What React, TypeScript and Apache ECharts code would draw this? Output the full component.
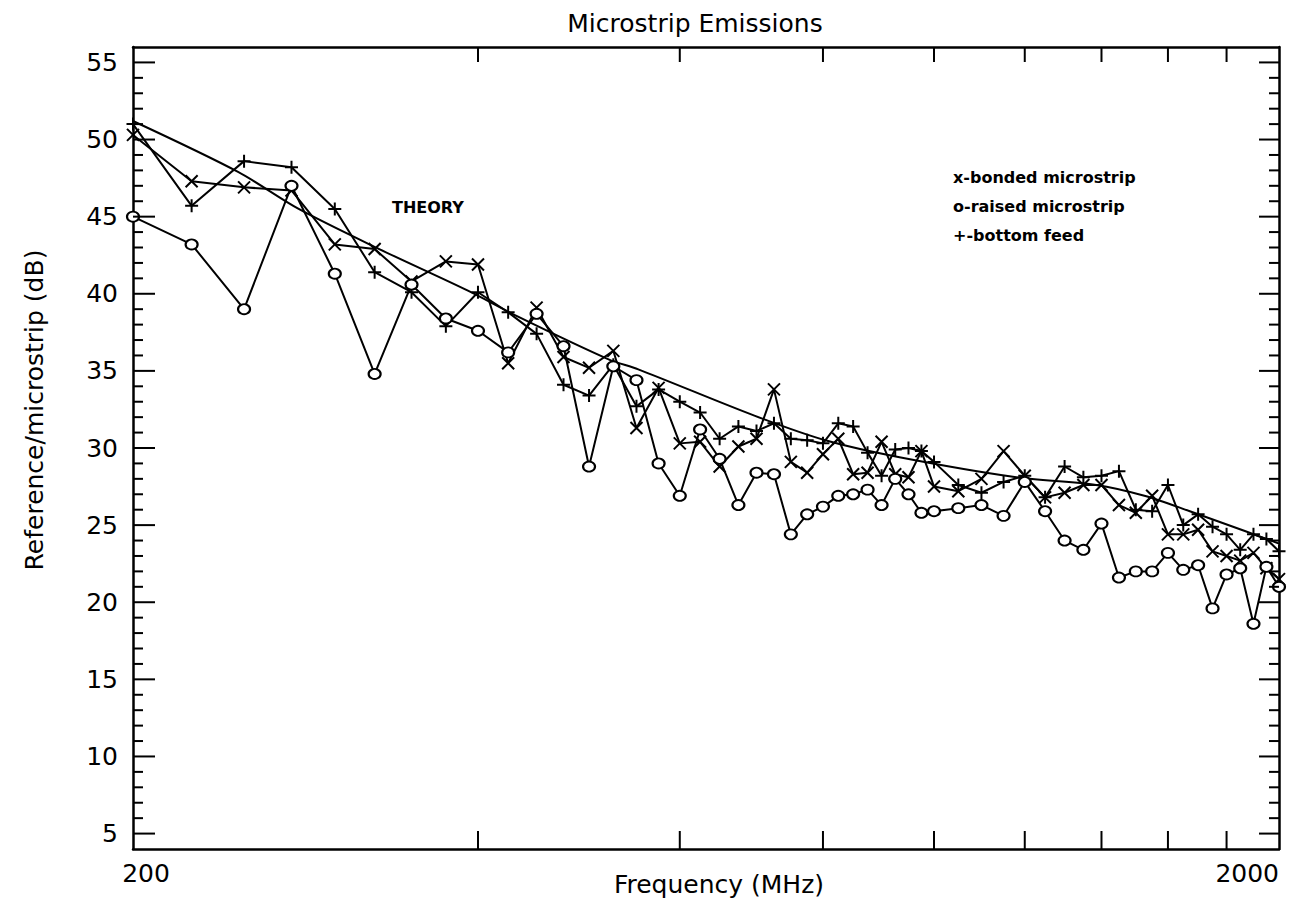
import React, { useEffect, useRef } from 'react';
import * as echarts from 'echarts';

// Measurement frequencies (MHz)
const freqsMHz = [
  200, 225, 250, 275, 300, 325, 350, 375, 400, 425, 450, 475, 500, 525, 550, 575, 600,
  625, 650, 675, 700, 725, 750, 775, 800, 825, 850, 875, 900, 925, 950, 975, 1000,
  1050, 1100, 1150, 1200, 1250, 1300, 1350, 1400, 1450, 1500, 1550, 1600, 1650, 1700,
  1750, 1800, 1850, 1900, 1950, 2000,
];

// x - bonded microstrip (dB)
const bondedDb = [
  50.3, 47.3, 46.9, 46.7, 43.2, 42.9, 40.8, 42.1, 41.9, 35.5, 39.1, 35.9, 35.2, 36.3, 31.3, 33.9, 30.3,
  30.4, 28.8, 30.1, 30.6, 33.8, 29.1, 28.4, 29.6, 30.6, 28.3, 28.4, 30.4, 28.3, 28.1, 29.8, 27.5,
  27.2, 28.0, 29.8, 28.2, 26.8, 27.1, 27.6, 27.6, 26.3, 25.8, 26.9, 24.4, 24.4, 24.7,
  23.3, 23.0, 22.7, 23.2, 22.2, 21.5,
];

// o - raised microstrip (dB)
const raisedDb = [
  45.0, 43.2, 39.0, 47.0, 41.3, 34.8, 40.6, 38.4, 37.6, 36.2, 38.7, 36.6, 28.8, 35.3, 34.4, 29.0, 26.9,
  31.2, 29.3, 26.3, 28.4, 28.3, 24.4, 25.7, 26.2, 26.9, 27.0, 27.3, 26.3, 28.0, 27.0, 25.8, 25.9,
  26.1, 26.3, 25.6, 27.8, 25.9, 24.0, 23.4, 25.1, 21.6, 22.0, 22.0, 23.2, 22.1, 22.4,
  19.6, 21.8, 22.2, 18.6, 22.3, 21.0,
];

// + - bottom feed (dB)
const bottomFeedDb = [
  51.0, 45.7, 48.6, 48.2, 45.5, 41.4, 40.1, 37.9, 40.1, 38.8, 37.4, 34.1, 33.4, 35.4, 32.7, 33.8, 33.0,
  32.3, 30.6, 31.4, 31.1, 31.6, 30.6, 30.5, 30.3, 31.6, 31.4, 29.7, 28.2, 29.9, 30.0, 29.8, 29.1,
  27.6, 27.1, 27.8, 28.2, 26.8, 28.8, 28.1, 28.2, 28.5, 26.0, 25.9, 27.6, 25.0, 25.7,
  24.9, 24.4, 23.4, 24.4, 24.1, 23.3,
];

// Theory curve samples
const theoryFreqs = [200, 247, 279, 328, 392, 434, 520, 552, 697, 804, 933, 1180, 1385, 1526, 1672, 1870, 2000];
const theoryDb = [51.2, 47.9, 45.5, 42.9, 40.2, 38.5, 35.75, 35.1, 32.1, 30.5, 29.4, 28.1, 27.6, 26.9, 25.9, 24.6, 23.8];

// Axis ticks
const xTickFreqs = [400, 600, 800, 1000, 1200, 1400, 1600, 1800];
const yMajorTicks = [5, 10, 15, 20, 25, 30, 35, 40, 45, 50, 55];
const yMinorTicks = [
  6, 7, 8, 9, 11, 12, 13, 14, 16, 17, 18, 19, 21, 22, 23, 24, 26, 27, 28, 29,
  31, 32, 33, 34, 36, 37, 38, 39, 41, 42, 43, 44, 46, 47, 48, 49, 51, 52, 53, 54,
];
const xLabelValues = [200, 2000];

const X_MIN = 200;
const X_MAX = 2000;
const Y_MIN = 4;
const Y_MAX = 56;

const seriesNames = ['x-bonded microstrip', 'o-raised microstrip', '+-bottom feed'];

const FONT = 'DejaVu Sans';

function buildOption() {
  const pair = (vals: number[]) => freqsMHz.map((f, i) => [f, vals[i]]);

  // [x, y, side(0 bottom,1 top,2 left,3 right), length]
  const tickData: number[][] = [];
  xTickFreqs.forEach((f) => {
    tickData.push([f, Y_MIN, 0, 18]);
    tickData.push([f, Y_MAX, 1, 15]);
  });
  yMajorTicks.forEach((v) => {
    tickData.push([X_MIN, v, 2, 22]);
    tickData.push([X_MAX, v, 3, 20]);
  });
  yMinorTicks.forEach((v) => {
    tickData.push([X_MIN, v, 2, 10]);
    tickData.push([X_MAX, v, 3, 10]);
  });

  const frameLine = { show: true, onZero: false, lineStyle: { color: '#000', width: 2.5 } };

  const markerSeries = (name: string, vals: number[], symbol: string, size: any) => ({
    name,
    type: 'line',
    data: pair(vals),
    symbol,
    symbolSize: size,
    showSymbol: true,
    lineStyle: { color: '#000', width: 2 },
    itemStyle: { color: '#000', borderColor: '#000', borderWidth: 2 },
    emphasis: { disabled: true },
  });

  return {
    animation: false,
    backgroundColor: '#fff',
    textStyle: { fontFamily: FONT, color: '#000' },
    title: {
      text: 'Microstrip Emissions',
      left: 690,
      textAlign: 'center',
      top: 6,
      textStyle: { fontFamily: FONT, fontSize: 25, fontWeight: 'normal', color: '#000' },
    },
    legend: {
      data: seriesNames,
      orient: 'vertical',
      left: 943,
      top: 164,
      icon: 'none',
      itemWidth: 0,
      itemHeight: 14,
      itemGap: 13,
      selectedMode: false,
      textStyle: { fontFamily: FONT, fontSize: 16, fontWeight: 'bold', color: '#000' },
    },
    grid: { left: 133, right: 15, top: 47, bottom: 64, outerBoundsMode: 'none', containLabel: false },
    xAxis: [
      {
        type: 'log',
        logBase: 10,
        min: X_MIN,
        max: X_MAX,
        axisLine: frameLine,
        axisTick: { show: false },
        minorTick: { show: false },
        splitLine: { show: false },
        minorSplitLine: { show: false },
        axisLabel: {
          interval: 0,
          showMinLabel: true,
          showMaxLabel: true,
          alignMaxLabel: 'right',
          margin: 12,
          fontSize: 25,
          fontFamily: FONT,
          color: '#000',
          padding: [0, 0, 0, 26],
          formatter: (v: number) => {
            const r = Math.round(v);
            return xLabelValues.indexOf(r) >= 0 ? String(r) : '';
          },
        },
        name: 'Frequency (MHz)',
        nameLocation: 'middle',
        nameGap: 23,
        nameMoveOverlap: false,
        nameTextStyle: { fontFamily: FONT, fontSize: 25, color: '#000', padding: [0, 0, 0, 26] },
      },
      {
        type: 'log',
        logBase: 10,
        position: 'top',
        min: X_MIN,
        max: X_MAX,
        axisLine: frameLine,
        axisTick: { show: false },
        axisLabel: { show: false },
        splitLine: { show: false },
      },
    ],
    yAxis: [
      {
        type: 'value',
        min: Y_MIN,
        max: Y_MAX,
        interval: 1,
        axisLine: frameLine,
        axisTick: { show: false },
        splitLine: { show: false },
        axisLabel: {
          interval: 0,
          margin: 15,
          fontSize: 25,
          fontFamily: FONT,
          color: '#000',
          formatter: (v: number) => (yMajorTicks.indexOf(v) >= 0 ? String(v) : ''),
        },
        name: 'Reference/microstrip (dB)',
        nameLocation: 'middle',
        nameRotate: 90,
        nameGap: 86,
        nameMoveOverlap: false,
        nameTextStyle: { fontFamily: FONT, fontSize: 25, color: '#000', padding: [0, 0, 0, 76] },
      },
      {
        type: 'value',
        position: 'right',
        min: Y_MIN,
        max: Y_MAX,
        interval: 1,
        axisLine: frameLine,
        axisTick: { show: false },
        axisLabel: { show: false },
        splitLine: { show: false },
      },
    ],
    graphic: [
      {
        type: 'text',
        left: 392,
        top: 199,
        style: { text: 'THEORY', font: `bold 16px "${FONT}"`, fill: '#000' },
      },
    ],
    series: [
      {
        name: 'THEORY',
        type: 'line',
        data: theoryFreqs.map((f, i) => [f, theoryDb[i]]),
        smooth: 0.3,
        showSymbol: false,
        symbol: 'none',
        lineStyle: { color: '#000', width: 2 },
        emphasis: { disabled: true },
      },
      markerSeries(seriesNames[0], bondedDb, 'path://M0,0L10,10M10,0L0,10', 12),
      markerSeries(seriesNames[2], bottomFeedDb, 'path://M5,0L5,10M0,5L10,5', 13),
      markerSeries(seriesNames[1], raisedDb, 'emptyCircle', [12, 10]),
      {
        type: 'custom',
        xAxisIndex: 0,
        yAxisIndex: 0,
        silent: true,
        clip: false,
        z: 10,
        renderItem: (_params: any, api: any) => {
          const side = api.value(2);
          const len = api.value(3);
          const p = api.coord([api.value(0), api.value(1)]);
          let x2 = p[0];
          let y2 = p[1];
          if (side === 0) y2 = p[1] - len;
          else if (side === 1) y2 = p[1] + len;
          else if (side === 2) x2 = p[0] + len;
          else x2 = p[0] - len;
          return {
            type: 'line',
            shape: { x1: p[0], y1: p[1], x2, y2 },
            style: { stroke: '#000', lineWidth: 2 },
          };
        },
        data: tickData,
      },
    ],
  };
}

export default function App() {
  const ref = useRef<HTMLDivElement>(null);
  useEffect(() => {
    document.body.style.margin = '0';
    const chart = echarts.init(ref.current as HTMLDivElement, null, { renderer: 'svg' });
    chart.setOption(buildOption() as any);
    return () => chart.dispose();
  }, []);
  return <div ref={ref} style={{ width: 1294, height: 913 }} />;
}
